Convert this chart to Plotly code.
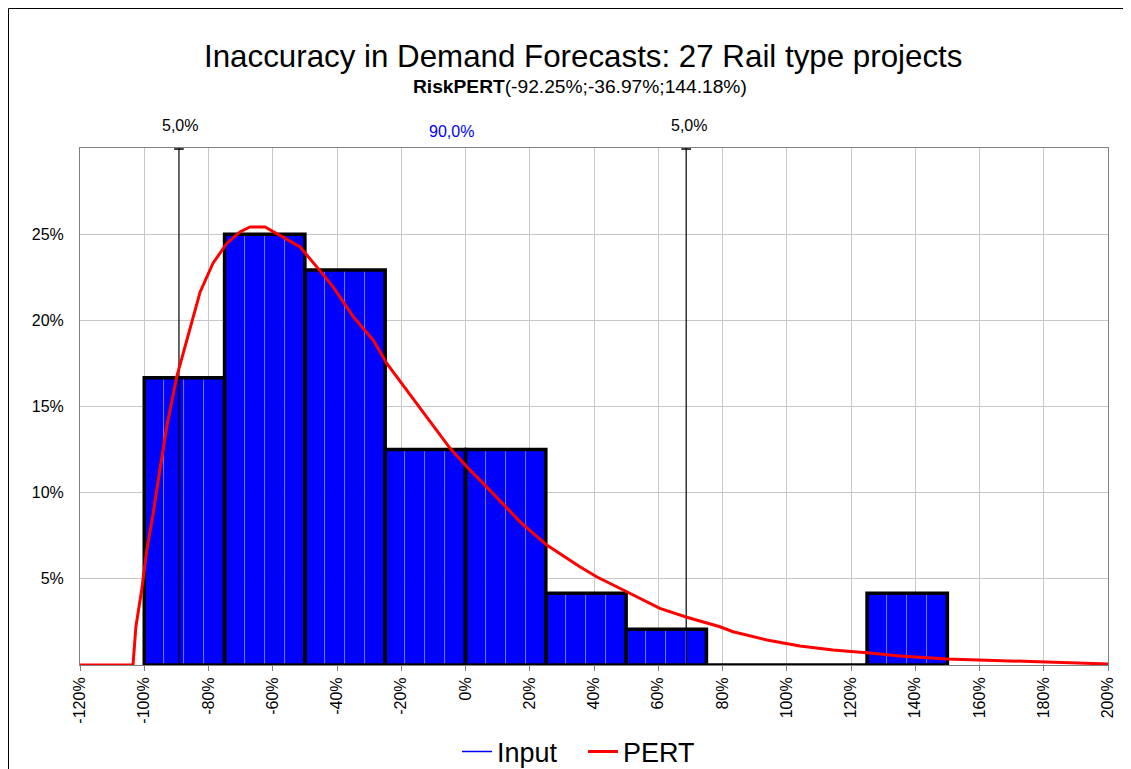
import numpy as np
import plotly.graph_objects as go

# ---- data ----
bin_left = [-100, -75, -50, -25, 0, 25, 50, 75, 100, 125]
bin_width = 25
bin_prob = [16.67, 25.00, 22.92, 12.50, 12.50, 4.17, 2.08, 0.0, 0.0, 4.17]  # % per bin

pert_x = [-120, -103.5, -102.6, -100.8, -99.2, -97.2, -95.3, -93.0, -89.9, -86.8,
          -83.7, -82.6, -78.6, -74.3, -70.2, -67.1, -62.4, -57.7, -51.5, -46.3,
          -41.2, -34.9, -28.7, -24.5, -18.3, -14.2, -4.8, 0.4, 5.5, 17.0,
          25.3, 35.6, 40.8, 50.2, 60.5, 68.9, 79.2, 83.3, 93.8, 104.1,
          114.4, 124.9, 135.3, 149.8, 161.1, 176.7, 194.4, 200]
pert_y = [0, 0, 2.22, 4.35, 6.67, 8.82, 11.14, 13.82, 16.72, 18.85,
          20.98, 21.65, 23.32, 24.46, 25.13, 25.42, 25.42, 24.94, 24.26, 23.10,
          21.94, 20.20, 18.85, 17.50, 15.95, 14.98, 12.57, 11.50, 10.54, 8.31,
          6.96, 5.70, 5.12, 4.25, 3.29, 2.77, 2.22, 1.93, 1.45, 1.10,
          0.87, 0.71, 0.52, 0.35, 0.29, 0.17, 0.10, 0.06]

marker_x = [-89.2, 68.7]           # 5% / 95% delimiters
marker_labels = ["5,0%", "90,0%", "5,0%"]
marker_label_x = [-88.9, -4.5, 69.5]

x_ticks = list(range(-120, 201, 20))
y_ticks = [5, 10, 15, 20, 25]

title_text = "Inaccuracy in Demand Forecasts: 27 Rail type projects"
subtitle_text = "<b>RiskPERT</b>(-92.25%;-36.97%;144.18%)"

FONT = "Liberation Sans, Arial, sans-serif"

# ---- geometry (page pixels; the page body adds an 8px offset) ----
PAGE_W, PAGE_H = 1131, 769
OFF = 8
W, H = PAGE_W - OFF, PAGE_H - OFF
PL, PR, PT, PB = 80, 1108, 148, 665      # plot area in page pixels
L, R, T, B = PL - OFF, PAGE_W - PR, PT - OFF, PAGE_H - PB
pw, ph = PR - PL, PB - PT

def px_to_paper_x(px):
    return (px - PL) / pw

def py_to_paper_y(py):
    return (PB - py) / ph

fig = go.Figure()

# sub-bins (light stripes inside the bars)
centers = np.array(bin_left) + bin_width / 2
sub_n = 4
sub_x, sub_y = [], []
for left, p in zip(bin_left, bin_prob):
    if p > 0:
        for k in range(sub_n):
            sub_x.append(left + (k + 0.5) * bin_width / sub_n)
            sub_y.append(p)
fig.add_trace(go.Bar(x=sub_x, y=sub_y, width=bin_width / sub_n,
                     marker=dict(color="#0000FF",
                                 line=dict(color="rgba(140,140,255,0.8)", width=0.8)),
                     showlegend=False, hoverinfo="skip"))

# Input histogram as thin blue step line
edges = list(bin_left) + [bin_left[-1] + bin_width]
step_y = list(bin_prob) + [bin_prob[-1]]
fig.add_trace(go.Scatter(x=edges, y=step_y, mode="lines", line_shape="hv",
                         line=dict(color="#0000FF", width=1.5), name="Input"))

# black outlines of every bin (incl. empty ones)
ox, oy = [], []
for left, p in zip(bin_left, bin_prob):
    right = left + bin_width
    ox += [left, left, right, right, left, None]
    oy += [0, p, p, 0, 0, None]
fig.add_trace(go.Scatter(x=ox, y=oy, mode="lines",
                         line=dict(color="black", width=3.5),
                         showlegend=False, hoverinfo="skip"))

# delimiter lines
for mx in marker_x:
    fig.add_trace(go.Scatter(x=[mx, mx], y=[0, 30], mode="lines",
                             line=dict(color="black", width=1.2),
                             showlegend=False, hoverinfo="skip"))

# PERT curve
fig.add_trace(go.Scatter(x=pert_x, y=pert_y, mode="lines",
                         line=dict(color="#FF0000", width=3), name="PERT"))

shapes = []
for mx in marker_x:
    shapes.append(dict(type="line", xref="x", yref="paper", x0=mx - 1.5, x1=mx + 1.5,
                       y0=0.998, y1=0.998, line=dict(color="black", width=1.5)))
# outer chart border
shapes.append(dict(type="rect", xref="paper", yref="paper",
                   x0=px_to_paper_x(8.5), x1=px_to_paper_x(1129),
                   y0=py_to_paper_y(800), y1=py_to_paper_y(8.5),
                   line=dict(color="black", width=1), fillcolor="rgba(0,0,0,0)", layer="above"))

annotations = [
    dict(text=title_text, xref="paper", yref="paper", x=px_to_paper_x(583),
         y=py_to_paper_y(56), xanchor="center", yanchor="middle", showarrow=False,
         font=dict(family=FONT, size=31.3, color="black")),
    dict(text=subtitle_text, xref="paper", yref="paper", x=px_to_paper_x(580),
         y=py_to_paper_y(87), xanchor="center", yanchor="middle", showarrow=False,
         font=dict(family=FONT, size=19.2, color="black")),
]
label_colors = ["black", "#0000FF", "black"]
label_py = [125, 132, 125]
for lx, lt, lc, lpy in zip(marker_label_x, marker_labels, label_colors, label_py):
    annotations.append(dict(text=lt, xref="x", yref="paper", x=lx, y=py_to_paper_y(lpy),
                            xanchor="center", yanchor="middle", showarrow=False,
                            font=dict(family=FONT, size=16, color=lc)))

fig.update_layout(
    width=W, height=H,
    margin=dict(l=L, r=R, t=T, b=B, autoexpand=False),
    paper_bgcolor="white", plot_bgcolor="white",
    barmode="overlay", bargap=0,
    font=dict(family=FONT, size=16, color="black"),
    showlegend=True,
    legend=dict(orientation="h", x=px_to_paper_x(457), xanchor="left",
                y=py_to_paper_y(752), yanchor="middle",
                entrywidth=81, entrywidthmode="pixels",
                font=dict(family=FONT, size=27, color="black"),
                bgcolor="rgba(0,0,0,0)", traceorder="normal"),
    shapes=shapes, annotations=annotations,
    xaxis=dict(range=[-120, 200], tickvals=x_ticks,
               ticktext=[f"{v}%" for v in x_ticks], tickangle=-90,
               showgrid=True, gridcolor="#C8C8C8", gridwidth=1,
               showline=True, linecolor="#808080", linewidth=1, mirror=True,
               ticks="outside", ticklen=5, tickcolor="#808080",
               zeroline=False, tickfont=dict(family=FONT, size=16)),
    yaxis=dict(range=[0, 30], tickvals=y_ticks,
               ticktext=[f"{v}%" for v in y_ticks],
               showgrid=True, gridcolor="#C8C8C8", gridwidth=1,
               showline=True, linecolor="#808080", linewidth=1, mirror=True,
               ticks="outside", ticklen=12, tickcolor="rgba(0,0,0,0)",
               zeroline=False, tickfont=dict(family=FONT, size=16)),
)

fig.write_html("out.html")
